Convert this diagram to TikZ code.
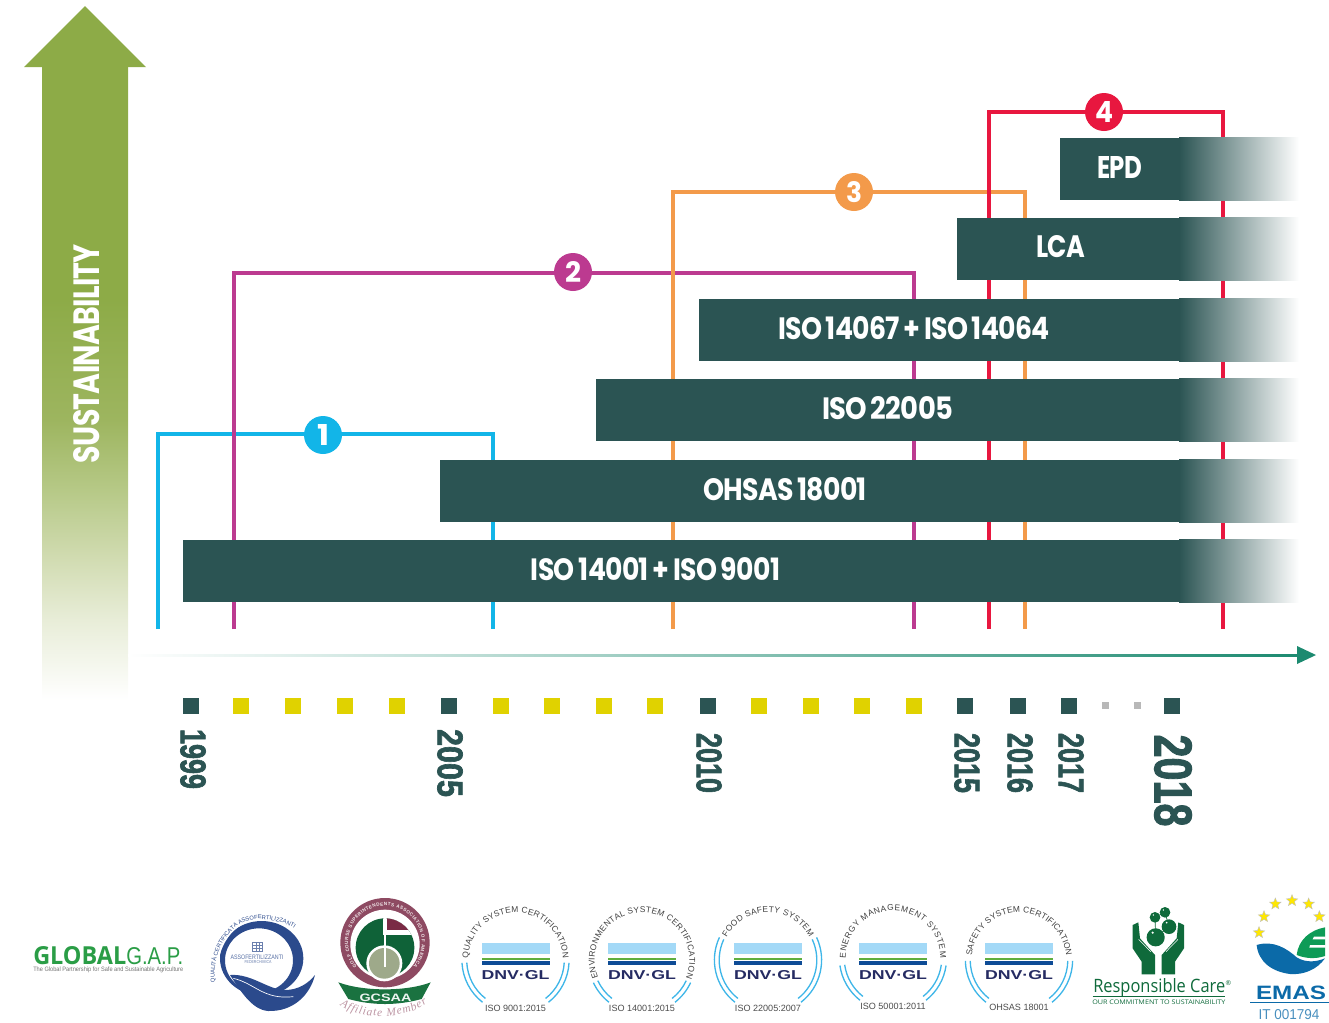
\documentclass[tikz,border=0pt]{standalone}
\usepackage{fontspec}
\usepackage{graphicx}
\usetikzlibrary{decorations.text,shapes.geometric}
\setmainfont{Poppins}[WordSpace=0.75,LetterSpace=-2.5]
\newfontfamily\libfont{Liberation Sans}
\newfontfamily\yearfont{Liberation Sans}[BoldFeatures={FakeBold=2}]
\newfontfamily\serfont{Liberation Serif}
\newfontfamily\opfont{Open Sans}
\newdimen\pxu \pxu=0.75pt
\newcommand\fitpx[3]{\resizebox{#1\pxu}{#2\pxu}{#3}}
\definecolor{bardark}{HTML}{2B5453}
\definecolor{sqyellow}{HTML}{E0D200}
\definecolor{axteal}{HTML}{1C8A70}
\definecolor{cycyan}{HTML}{12B5E8}
\definecolor{cymag}{HTML}{BC3A90}
\definecolor{cyorange}{HTML}{F39A4A}
\definecolor{cyred}{HTML}{E8173F}
\definecolor{dnvlight}{HTML}{A3D9F7}
\definecolor{dnvgreen}{HTML}{5FAE3E}
\definecolor{dnvblue}{HTML}{0E4C96}
\definecolor{dnvnavy}{HTML}{252B62}
\definecolor{dnvarc}{HTML}{3FB6E8}
\definecolor{qblue}{HTML}{2B4A8C}
\definecolor{gcgreen}{HTML}{0F6238}
\definecolor{gcband}{HTML}{1A7240}
\definecolor{gcmaroon}{HTML}{7A2A45}
\definecolor{gcring}{HTML}{8E4A62}
\definecolor{gcgray}{HTML}{9EA98A}
\definecolor{rcgreen}{HTML}{0F6A3B}
\definecolor{emblue}{HTML}{0B6AA8}
\definecolor{emgreen}{HTML}{0E9B57}
\definecolor{ggreen}{HTML}{2A9D46}
\definecolor{sA}{HTML}{E8EDD8}
\definecolor{sB}{HTML}{CFDAAE}
\definecolor{sC}{HTML}{B5C885}
\definecolor{sD}{HTML}{9DB55F}
\definecolor{sF}{HTML}{8DAB47}
\pgfdeclareverticalshading{susshade}{100bp}{
 color(0bp)=(white); color(25bp)=(white);
 color(31.3bp)=(sA); color(36.6bp)=(sB); color(41.8bp)=(sC);
 color(47.1bp)=(sD); color(56.6bp)=(sF); color(75bp)=(sF); color(100bp)=(sF)}
\tikzset{
 lab/.style={inner sep=0pt,text=white,font=\bfseries},
 yearlab/.style={inner sep=0pt,rotate=-90,text=bardark,font=\yearfont\bfseries},
 bracket/.style={line width=2.5pt,line join=miter},
 badgecirc/.style={circle,inner sep=0pt,minimum size=28.5pt,text=white,font=\bfseries},
 dnvarcst/.style={draw=dnvarc,line width=1pt},
 starry/.style={star,star points=5,star point ratio=2.3,fill=yellow!90!orange,draw=black!25,line width=.3pt,minimum size=9pt,inner sep=0pt},
}
\newcommand\barrow[4]{% name,x,top,bottom
 \fill[bardark] (#2,#3) rectangle (1180,#4);
 \shade[left color=bardark,right color=white] (1179,#3-0.7) rectangle (1299,#4+0.7);
 \coordinate (#1) at (#2,#3);
}
\newcommand\dnvfont{\fontsize{6.3}{7}\selectfont\libfont}
% cx cy arcstart arctextstart arctextend  cert  bottom  name bottomy
\newcommand\dnvbadge[9]{
 \begin{scope}
 \foreach \rr in {40.2pt,36.6pt}{
  \draw[dnvarcst] (#1,#2) ++(#3:\rr) arc[start angle=#3,end angle=232,radius=\rr];
  \draw[dnvarcst] (#1,#2) ++(308:\rr) arc[start angle=308,end angle={540-#3},radius=\rr];
 }
 \path[decorate,decoration={text along path,text={|\dnvfont\color{black!75}|#6},text align={fit to path}}]
   (#1,#2) ++(#4:35.5pt) arc[start angle=#4,end angle=#5,radius=35.5pt];
 \fill[dnvlight] ({#1-34},943) rectangle ({#1+34},954);
 \fill[dnvgreen] ({#1-34},958) rectangle ({#1+34},960);
 \fill[dnvblue] ({#1-34},961) rectangle ({#1+34},965);
 \node[inner sep=0pt,text=dnvnavy,font=\libfont\bfseries] (#8dnv) at (#1,975) {\fitpx{68}{9}{DNV·GL}};
 \node[inner sep=0pt,text=black!70,font=\libfont\fontsize{6.8}{8}\selectfont] (#8iso) at (#1,#9) {#7};
 \end{scope}
}
\begin{document}
\begin{tikzpicture}[x=0.75pt,y=-0.75pt]
\useasboundingbox (0,0) rectangle (1329,1022);
% sustainability arrow
\fill[sF] (24,67) -- (85,6) -- (146,67) -- cycle;
\shade[shading=susshade] (42,66) rectangle (128,700);
\node[lab,rotate=90] (sus) at (87,353.5) {\fitpx{219}{26}{SUSTAINABILITY}};
% time axis
\shade[left color=white,right color=axteal] (128,654) rectangle (1300,656);
\fill[axteal] (1297,646) -- (1316,655) -- (1297,664) -- cycle;
% brackets
\coordinate (c1a) at (158,629);\coordinate (c1b) at (493,629);
\coordinate (c2a) at (234,629);\coordinate (c2b) at (914,629);
\coordinate (c3a) at (673,629);\coordinate (c3b) at (1025,629);
\coordinate (c4a) at (989,629);\coordinate (c4b) at (1223,629);
\draw[bracket,cycyan] (c1a) |- (323,434) -| (c1b);
\draw[bracket,cymag] (c2a) |- (573,273) -| (c2b);
\draw[bracket,cyorange] (c3a) |- (854,192) -| (c3b);
\draw[bracket,cyred] (c4a) |- (1104,112) -| (c4b);
\node[badgecirc,fill=cycyan] (n1) at (323,435) {\fitpx{12}{21}{1}};
\node[badgecirc,fill=cymag] (n2) at (573,272) {\fitpx{16}{21}{2}};
\node[badgecirc,fill=cyorange] (n3) at (854,192) {\fitpx{16}{21}{3}};
\node[badgecirc,fill=cyred] (n4) at (1104,112) {\fitpx{18}{21}{4}};
% bars
\barrow{b6}{1060}{138}{200}
\barrow{b5}{957}{218}{280}
\barrow{b4}{699}{299}{361}
\barrow{b3}{596}{379}{441}
\barrow{b2}{440}{460}{522}
\barrow{b1}{183}{540}{602}
\node[lab] (t6) at (1119.5,167) {\fitpx{45}{22}{EPD}};
\node[lab] (t5) at (1060.5,247) {\fitpx{49}{22}{LCA}};
\node[lab] (t4) at (914,328) {\fitpx{272}{23}{ISO 14067 + ISO 14064}};
\node[lab] (t3) at (887.5,408) {\fitpx{131}{23}{ISO 22005}};
\node[lab] (t2) at (785,489) {\fitpx{164}{23}{OHSAS 18001}};
\node[lab] (t1) at (655.5,569) {\fitpx{249}{23}{ISO 14001 + ISO 9001}};
% ticks
\foreach \x in {191,449,708,965,1018,1069,1172}{\fill[bardark] ({\x-8},698) rectangle ({\x+8},714);}
\foreach \x in {241,293,345,397,501,552,604,655,759,811,862,914}{\fill[sqyellow] ({\x-8},698) rectangle ({\x+8},714);}
\foreach \x in {1105,1137}{\fill[black!28] ({\x-3.5},702) rectangle ({\x+3.5},709);}
% years
\node[yearlab] (y1) at (193,759) {\fitpx{60}{25}{1999}};
\node[yearlab] (y2) at (450,763) {\fitpx{68}{25}{2005}};
\node[yearlab] (y3) at (709,763) {\fitpx{60}{25}{2010}};
\node[yearlab] (y4) at (967,763) {\fitpx{60}{25}{2015}};
\node[yearlab] (y5) at (1020,763) {\fitpx{60}{25}{2016}};
\node[yearlab] (y6) at (1071,763) {\fitpx{60}{25}{2017}};
\node[yearlab] (y7) at (1173,780.5) {\fitpx{92}{37}{2018}};
% Global GAP
\node[inner sep=0pt,anchor=west,text=ggreen,font=\opfont\bfseries] (gg1) at (33,956) {\fitpx{93}{18}{GLOBAL}};
\node[inner sep=0pt,anchor=west,text=ggreen,font=\libfont] (gg2) at (126,956) {\fitpx{57}{17}{G.A.P.}};
\node[inner sep=0pt,anchor=west,text=black!55,font=\libfont] (gg3) at (33,969.5) {\fitpx{150}{4.6}{The Global Partnership for Safe and Sustainable Agriculture}};
% Q logo
\begin{scope}[shift={(205,895)},x=0.25pt,y=-0.25pt]
 \begin{scope}[even odd rule]
 \fill[qblue] (170,190) ellipse[x radius=31.25pt,y radius=28pt] (162,196) ellipse[x radius=25.5pt,y radius=24pt];
 \end{scope}
 \fill[qblue] (75,240) .. controls (140,235) and (190,285) .. (240,285) .. controls (280,285) and (310,265) .. (330,240)
   .. controls (315,300) and (265,350) .. (190,348) .. controls (140,345) and (105,285) .. (75,240) -- cycle;
 \draw[white,line width=.5pt] (85,250) .. controls (150,265) and (175,315) .. (265,305);
 \fill[white] (20,150) -- (20,70) -- (290,60) -- (280,102) .. controls (240,85) and (200,76) .. (160,76) .. controls (90,76) and (30,150) .. (34,262) -- (20,262) -- cycle;
 \path[decorate,decoration={text along path,text={|\fontsize{4.3}{5}\selectfont\libfont\color{qblue}|QUALITÀ CERTIFICATA ASSOFERTILIZZANTI},text align={fit to path}}]
  (30,262) .. controls (20,150) and (90,72) .. (160,72) .. controls (200,73) and (240,82) .. (268,100);
 \draw[qblue!70,line width=.4pt] (143,143) rectangle (173,168) (143,151) -- (173,151) (143,160) -- (173,160) (153,143) -- (153,168) (163,143) -- (163,168);
\end{scope}
\node[inner sep=0pt,text=qblue!80,font=\libfont] (q1) at (257,957) {\fitpx{53}{4.5}{ASSOFERTILIZZANTI}};
\node[inner sep=0pt,text=qblue!70,font=\libfont] (q2) at (258,962.5) {\fitpx{27}{3}{FEDERCHIMICA}};
% GCSAA
\begin{scope}[shift={(330,895)},x=0.25pt,y=-0.25pt]
 \fill[gcring] (165,143) circle[radius=33.5pt];
 \fill[white] (165,148) circle[radius=26pt];
 \fill[gcgreen] (165,158) circle[radius=22pt];
 \begin{scope}
  \clip (165,158) circle[radius=22pt];
  \fill[white] (160,60) rectangle (270,120);
  \fill[gcmaroon] (172,60) rectangle (270,105);
 \end{scope}
 \fill[white] (163,205) circle[radius=13.5pt];
 \fill[gcgray] (163,205) circle[radius=11.5pt];
 \draw[white,line width=.9pt] (165,68) -- (165,215);
 \fill[gcband] (25,262) .. controls (100,290) and (230,290) .. (302,262) -- (275,312) .. controls (200,332) and (130,332) .. (55,312) -- cycle;
 \path[decorate,decoration={text along path,text={|\fontsize{8.6}{9}\selectfont\serfont\itshape\color{gcmaroon!50}|Affiliate Member},text align={fit to path}}]
  (30,332) .. controls (90,375) and (220,375) .. (292,325);
 \path[decorate,decoration={text along path,text={|\fontsize{3.5}{4}\selectfont\libfont\bfseries\color{white!90!gcmaroon}|GOLF COURSE SUPERINTENDENTS ASSOCIATION OF AMERICA},text align={fit to path}}]
  (165,143) ++(220:27.6pt) arc[start angle=220,end angle=-40,radius=27.6pt];
\end{scope}
\node[inner sep=0pt,text=white!92!gcband,font=\libfont\bfseries] (gc1) at (385.5,998) {\fitpx{52}{7.5}{GCSAA}};
% DNV badges
\dnvbadge{515.5}{960}{183}{178}{2}{QUALITY SYSTEM CERTIFICATION}{ISO 9001:2015}{da}{1008}
\dnvbadge{642}{960}{205}{202}{-22}{ENVIRONMENTAL SYSTEM CERTIFICATION}{ISO 14001:2015}{db}{1008}
\dnvbadge{768}{960}{155}{151}{29}{FOOD SAFETY SYSTEM}{ISO 22005:2007}{dc}{1008}
\dnvbadge{893}{958}{188}{180}{0}{ENERGY MANAGEMENT SYSTEM}{ISO 50001:2011}{dd}{1006}
\dnvbadge{1019}{960}{181}{175}{5}{SAFETY SYSTEM CERTIFICATION}{OHSAS 18001}{de}{1007}
% Responsible Care
\begin{scope}[shift={(830,880)},x=0.25pt,y=-0.25pt]
 \fill[rcgreen] (908,135) -- (925,127) -- (930,175) -- (975,225) -- (975,283) -- (935,283) -- (935,245) -- (908,205) -- cycle;
 \fill[rcgreen] (1062,135) -- (1045,127) -- (1040,175) -- (995,225) -- (995,283) -- (1035,283) -- (1035,245) -- (1062,205) -- cycle;
 \draw[white,line width=.4pt] (926,178) -- (962,215);
 \draw[white,line width=.4pt] (1044,178) -- (1008,215);
 \draw[rcgreen,line width=.5pt] (977,172) -- (1017,140) -- (1005,97) -- (975,112) -- cycle;
 \fill[rcgreen] (977,172) circle[radius=6.8pt];
 \fill[rcgreen] (1017,140) circle[radius=5.5pt];
 \fill[rcgreen] (1005,97) circle[radius=4pt];
 \fill[rcgreen] (975,112) circle[radius=4pt];
 \fill[white] (968,158) circle[radius=.9pt];
 \fill[white] (1010,128) circle[radius=.7pt];
 \fill[white] (1000,90) circle[radius=.6pt];
 \fill[white] (970,105) circle[radius=.6pt];
 \draw[rcgreen,line width=.7pt] (788,349) -- (1185,349);
\end{scope}
\node[inner sep=0pt,anchor=west,text=rcgreen,font=\opfont] (rc1) at (1093,988) {\fitpx{132}{14}{Responsible Care}};
\node[inner sep=0pt,text=rcgreen,font=\opfont\fontsize{5}{6}\selectfont] (rc2) at (1228.5,983) {®};
\node[inner sep=0pt,anchor=west,text=rcgreen,font=\opfont] (rc3) at (1092,1002) {\fitpx{133}{4.6}{OUR COMMITMENT TO SUSTAINABILITY}};
% EMAS
\begin{scope}[shift={(830,880)},x=0.25pt,y=-0.25pt]
 \fill[emblue] (1280,195) .. controls (1330,180) and (1370,205) .. (1400,232) .. controls (1430,250) and (1460,245) .. (1485,235)
   .. controls (1460,270) and (1420,285) .. (1380,282) .. controls (1325,275) and (1285,245) .. (1280,195) -- cycle;
 \fill[emgreen] (1400,225) .. controls (1405,180) and (1440,150) .. (1485,142) -- (1485,228) .. controls (1455,238) and (1425,235) .. (1400,225) -- cycle;
 \fill[white] (1452,170) -- (1487,170) -- (1487,178) -- (1448,178) -- cycle;
 \fill[white] (1440,195) -- (1487,195) -- (1487,203) -- (1438,203) -- cycle;
 \draw[emblue,line width=.8pt] (1260,367) -- (1497,367);
 \node[starry] (s1) at (1287,158) {};
 \node[starry] (s2) at (1302,110) {};
 \node[starry] (s3) at (1336,72) {};
 \node[starry] (s4) at (1386,62) {};
 \node[starry] (s5) at (1436,72) {};
 \node[starry] (s6) at (1468,110) {};
\end{scope}
\node[inner sep=0pt,text=emblue,font=\libfont\bfseries] (em1) at (1291,993) {\fitpx{70}{13.5}{EMAS}};
\node[inner sep=0pt,text=emblue!75,font=\libfont] (em2) at (1289,1015) {\fitpx{61}{10}{IT 001794}};
\end{tikzpicture}
\end{document}
